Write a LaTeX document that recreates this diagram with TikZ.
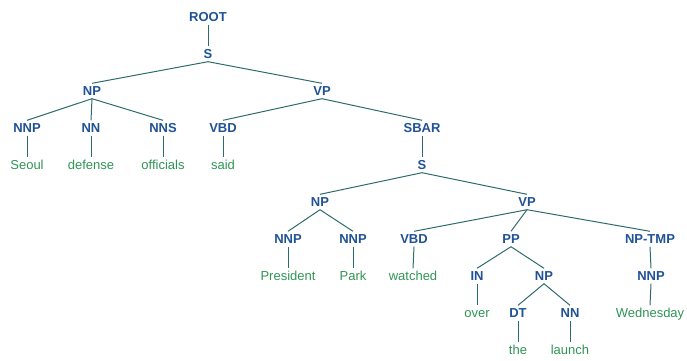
\documentclass[tikz,border=0pt]{standalone}
\usepackage{fontspec}
\setmainfont{Liberation Sans}
\definecolor{lblc}{HTML}{1F5296}
\definecolor{leafc}{HTML}{2F9455}
\definecolor{edgec}{HTML}{2E6B6B}
\begin{document}
\begin{tikzpicture}[x=1pt,y=-1pt,
  lbl/.style={anchor=base,inner sep=1pt,text height=11pt,text depth=2pt,font=\fontsize{13}{15}\selectfont\bfseries,text=lblc},
  leaf/.style={anchor=base,inner sep=1pt,text height=11pt,text depth=2pt,font=\fontsize{13}{15}\selectfont,text=leafc},
  edge/.style={draw=edgec,line width=1pt}]
\useasboundingbox (0,0) rectangle (687,360);
\def\rA{21.5}\def\rB{58.5}\def\rC{95.5}\def\rD{132.5}\def\rE{169.5}
\def\rF{206.5}\def\rG{243.5}\def\rH{280.5}\def\rI{317.5}\def\rJ{354.5}
\node[lbl] (root) at (208,\rA) {ROOT};
\node[lbl] (s) at (208,\rB) {S};
\node[lbl] (np) at (92,\rC) {NP};
\node[lbl] (vp) at (322,\rC) {VP};
\node[lbl] (nnp1) at (27,\rD) {NNP};
\node[lbl] (nn1) at (91,\rD) {NN};
\node[lbl] (nns) at (163,\rD) {NNS};
\node[lbl] (vbd1) at (223,\rD) {VBD};
\node[lbl] (sbar) at (422,\rD) {SBAR};
\node[leaf] (seoul) at (27,\rE) {Seoul};
\node[leaf] (defense) at (91,\rE) {defense};
\node[leaf] (officials) at (163,\rE) {officials};
\node[leaf] (said) at (223,\rE) {said};
\node[lbl] (s2) at (422,\rE) {S};
\node[lbl] (np2) at (320,\rF) {NP};
\node[lbl] (vp2) at (527,\rF) {VP};
\node[lbl] (nnp2) at (288,\rG) {NNP};
\node[lbl] (nnp3) at (353,\rG) {NNP};
\node[lbl] (vbd2) at (414,\rG) {VBD};
\node[lbl] (pp) at (511,\rG) {PP};
\node[lbl] (nptmp) at (650,\rG) {NP-TMP};
\node[leaf] (president) at (288,\rH) {President};
\node[leaf] (park) at (353,\rH) {Park};
\node[leaf] (watched) at (413,\rH) {watched};
\node[lbl] (in) at (477,\rH) {IN};
\node[lbl] (np3) at (544,\rH) {NP};
\node[lbl] (nnp4) at (651,\rH) {NNP};
\node[leaf] (over) at (477,\rI) {over};
\node[lbl] (dt) at (518,\rI) {DT};
\node[lbl] (nn2) at (570,\rI) {NN};
\node[leaf] (wednesday) at (650,\rI) {Wednesday};
\node[leaf] (the) at (518,\rJ) {the};
\node[leaf] (launch) at (570,\rJ) {launch};
\foreach \p/\c in {root/s, s/np, s/vp, np/nnp1, np/nn1, np/nns, vp/vbd1, vp/sbar,
  nnp1/seoul, nn1/defense, nns/officials, vbd1/said, sbar/s2, s2/np2, s2/vp2,
  np2/nnp2, np2/nnp3, vp2/vbd2, vp2/pp, vp2/nptmp, nnp2/president, nnp3/park,
  vbd2/watched, pp/in, pp/np3, nptmp/nnp4, in/over, np3/dt, np3/nn2,
  nnp4/wednesday, dt/the, nn2/launch}
  \draw[edge] (\p.south) -- (\c.north);
\end{tikzpicture}
\end{document}
